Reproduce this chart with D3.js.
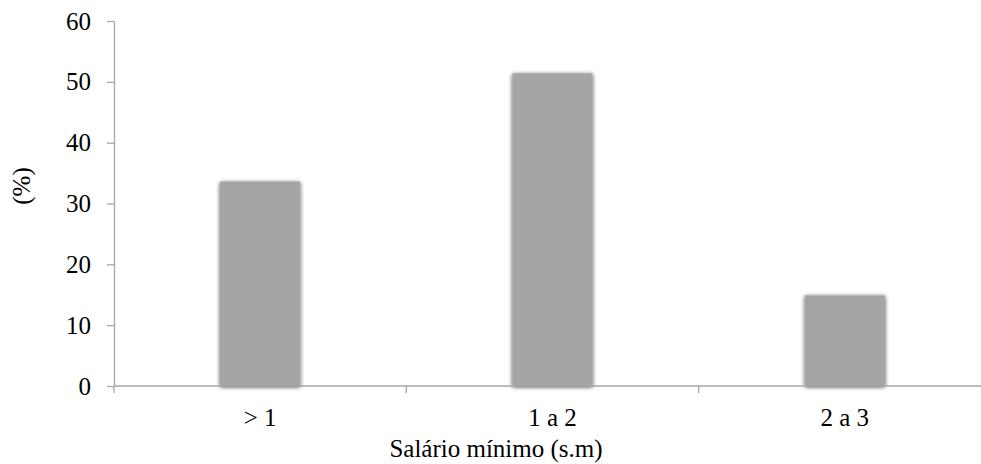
<!DOCTYPE html>
<html>
<head>
<meta charset="utf-8">
<script src="https://cdn.jsdelivr.net/npm/d3@7"></script>
<style>
  body { margin: 0; background: #fff; }
  svg text { font-family: "Liberation Serif", "Times New Roman", serif; fill: #000; }
  .axis path, .axis line { stroke: #a6a6a6; stroke-width: 1.3; }
  .axis text { font-size: 25px; }
</style>
</head>
<body>
<div class="mainCont"></div>
<script>
var categories = ["> 1", "1 a 2", "2 a 3"];
var values = [33.6, 51.4, 14.9];
var yTicks = [0, 10, 20, 30, 40, 50, 60];

var width = 981, height = 464;
var margin = { top: 21, right: -10, bottom: 78, left: 114 };

var svg = d3.select(".mainCont").append("svg")
    .attr("width", width)
    .attr("height", height);

// soft shadow like the office chart
var defs = svg.append("defs");
var f = defs.append("filter").attr("id", "shadow")
    .attr("x", "-20%").attr("y", "-20%").attr("width", "140%").attr("height", "140%");
f.append("feGaussianBlur").attr("in", "SourceAlpha").attr("stdDeviation", 2).attr("result", "blur");
f.append("feOffset").attr("in", "blur").attr("dx", 0).attr("dy", 1).attr("result", "off");
f.append("feComponentTransfer").attr("in", "off").attr("result", "sh")
    .append("feFuncA").attr("type", "linear").attr("slope", 0.75);
var merge = f.append("feMerge");
merge.append("feMergeNode").attr("in", "sh");
merge.append("feMergeNode").attr("in", "SourceGraphic");

var x = d3.scaleBand()
    .domain(categories)
    .range([margin.left, width - margin.right])
    .paddingInner(0.726)
    .paddingOuter(0.363);

var y = d3.scaleLinear()
    .domain([0, 60])
    .range([height - margin.bottom, margin.top]);

// bars
svg.selectAll(".bar")
    .data(values)
    .enter().append("rect")
    .attr("class", "bar")
    .attr("x", function(d, i) { return x(categories[i]); })
    .attr("width", x.bandwidth())
    .attr("y", function(d) { return y(d); })
    .attr("height", function(d) { return y(0) - y(d); })
    .style("fill", "#a5a5a5")
    .attr("filter", "url(#shadow)");

// y axis
var yAxis = svg.append("g")
    .attr("class", "axis")
    .attr("transform", "translate(" + margin.left + ",0)")
    .call(d3.axisLeft(y).tickValues(yTicks).tickSize(7).tickSizeOuter(0).tickPadding(16));
yAxis.attr("font-family", null);

// x axis with ticks at band boundaries
var xAxisG = svg.append("g")
    .attr("class", "axis")
    .attr("transform", "translate(0," + y(0) + ")");
xAxisG.append("line")
    .attr("x1", margin.left).attr("x2", width)
    .attr("y1", 0).attr("y2", 0);
var step = x.step();
var bounds = categories.map(function(c) { return x(c) - x.paddingInner() * step / 2; });
xAxisG.selectAll(".tk")
    .data(bounds)
    .enter().append("line")
    .attr("class", "tk")
    .attr("x1", function(d) { return d; }).attr("x2", function(d) { return d; })
    .attr("y1", 0).attr("y2", 7);
xAxisG.selectAll(".lbl")
    .data(categories)
    .enter().append("text")
    .attr("x", function(d) { return x(d) + x.bandwidth() / 2; })
    .attr("y", 39.5)
    .attr("text-anchor", "middle")
    .text(function(d) { return d; });

// axis titles
svg.append("text")
    .attr("x", 496)
    .attr("y", 457)
    .attr("text-anchor", "middle")
    .style("font-size", "25px")
    .text("Salário mínimo (s.m)");

svg.append("text")
    .attr("transform", "translate(30,186) rotate(-90)")
    .attr("text-anchor", "middle")
    .style("font-size", "25px")
    .text("(%)");
</script>
</body>
</html>
